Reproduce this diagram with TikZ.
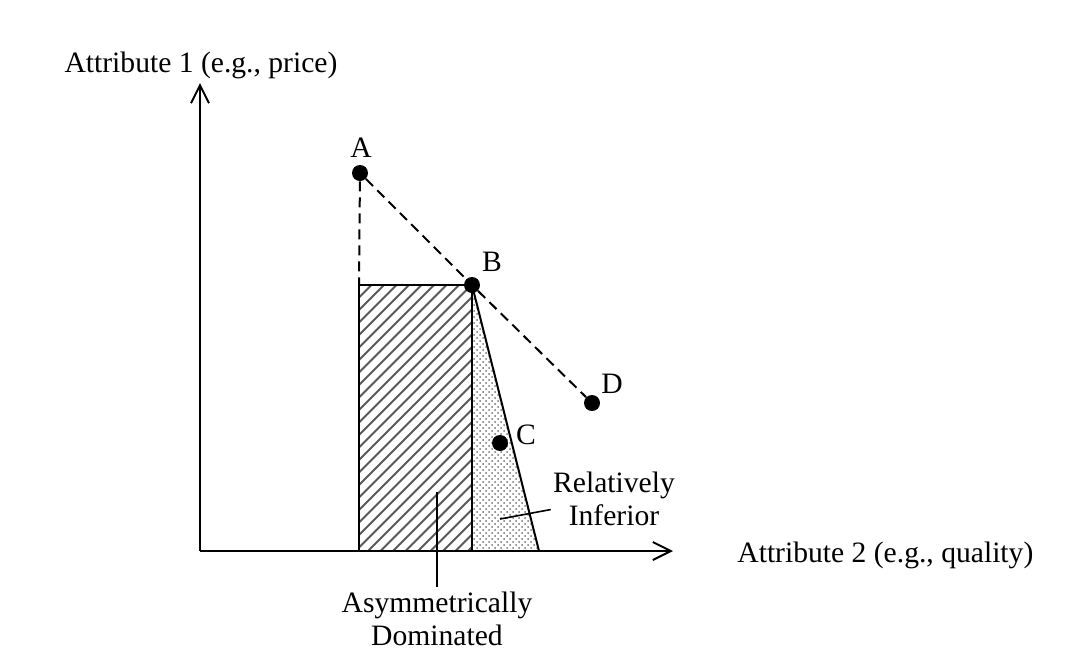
\documentclass[tikz,border=0pt]{standalone}
\usepackage{fontspec}
\setmainfont{Liberation Serif}
\usepackage{tikz}
\usetikzlibrary{arrows.meta,patterns,positioning}

\begin{document}
\begin{tikzpicture}[x=0.5pt, y=-0.5pt,
  font=\fontsize{14.8}{16.5}\selectfont,
  axis/.style={line width=1pt, -{Straight Barb[length=9pt, width=9pt, line width=1pt]}},
  dot/.style={circle, fill=black, inner sep=0pt, minimum size=8pt},
  lab/.style={inner sep=1pt},
  edge/.style={line width=1pt},
  guide/.style={line width=1pt, dash pattern=on 5pt off 3pt},
  hatch/.style={line width=0.9pt, black!65},
  lead/.style={line width=0.8pt}]
\useasboundingbox (0,0) rectangle (1067,671);
\coordinate (O) at (200,551);
\coordinate (ytip) at (200,83);
\coordinate (xtip) at (673,551);
\coordinate (rtl) at (359,285);
\coordinate (rbl) at (359,551);
\coordinate (rbr) at (472,551);
\coordinate (tbr) at (539,551);
\coordinate (pB) at (472,285);
% shaded regions
\begin{scope}
  \clip (rbl) rectangle (pB);
  \foreach \k in {0,...,32}
    \draw[hatch] ({93+12.5*\k},551) -- ++(300,-300);
\end{scope}
\fill[pattern=crosshatch dots, pattern color=black!55] (pB) -- (tbr) -- (rbr) -- cycle;
\draw[edge] (rbl) -- (rtl) -- (pB) -- (rbr);
\draw[edge] (pB) -- (tbr);
% axes
\draw[axis] (O) -- (ytip);
\draw[axis] (O) -- (xtip);
\node[anchor=base] (ylab) at (201,72) {Attribute 1 (e.g., price)};
\node[anchor=base west, inner sep=0pt] (xlab) at (737,562) {Attribute 2 (e.g., quality)};
% options
\node[dot] (A) at (360,173) {};
\node[dot] (B) at (pB) {};
\node[dot] (C) at (500,443) {};
\node[dot] (D) at (592,403) {};
\node[lab] (Alab) at (361,148) {A};
\node[lab] (Blab) at (492,262) {B};
\node[lab] (Clab) at (526,435) {C};
\node[lab] (Dlab) at (612,384) {D};
\draw[guide] (A) -- (rtl);
\draw[guide] (A) -- (B) -- (D);
% region labels
\node[lab, align=center, anchor=base] (inf) at (614,525) {Relatively\\Inferior};
\node[align=center, anchor=base, inner sep=2pt] (dom) at (437,645) {Asymmetrically\\Dominated};
\coordinate (inftip) at (500,519);
\coordinate (domtip) at (437,492);
\draw[lead] (inftip) -- (inf.190);
\draw[lead] (domtip) -- (dom.north);
\end{tikzpicture}
\end{document}
